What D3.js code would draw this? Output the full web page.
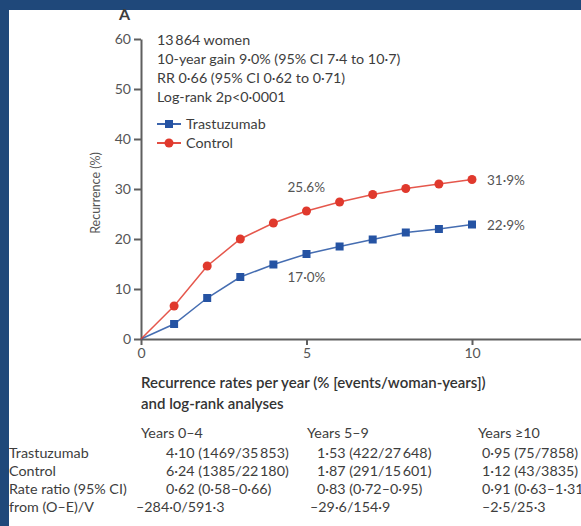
<!DOCTYPE html>
<html>
<head>
<meta charset="utf-8">
<script src="https://cdn.jsdelivr.net/npm/d3@7"></script>
<style>
html,body{margin:0;padding:0;background:#1f487a;}
svg{display:block;}
text{font-family:Lato,"Open Sans",sans-serif;fill:#3d3d3d;}
</style>
</head>
<body>
<svg id="chart" width="581" height="526"></svg>
<script>
// ---- data ----
const years = [0,1,2,3,4,5,6,7,8,9,10];
const trastuzumab = [0,3.0,8.2,12.4,14.9,17.0,18.5,19.9,21.3,22.0,22.9];
const control = [0,6.6,14.6,20.0,23.2,25.6,27.4,28.9,30.1,31.0,31.9];
const yTicks = [0,10,20,30,40,50,60];
const xTicks = [0,5,10];
const seriesNames = ["Trastuzumab","Control"];
const infoLines = ["13\u2009864 women","10-year gain 9·0% (95% CI 7·4 to 10·7)","RR 0·66 (95% CI 0·62 to 0·71)","Log-rank 2p<0·0001"];
const pointLabels = [
  {series:"Control", year:5, text:"25.6%"},
  {series:"Trastuzumab", year:5, text:"17·0%"},
  {series:"Control", year:10, text:"31·9%"},
  {series:"Trastuzumab", year:10, text:"22·9%"}
];
const tableHeader = ["Recurrence rates per year (% [events/woman-years])","and log-rank analyses"];
const periods = ["Years 0–4","Years 5–9","Years ≥10"];
const rowLabels = ["Trastuzumab","Control","Rate ratio (95% CI)","from (O–E)/V"];
const trastRates = ["4·10 (1469/35\u2009853)","1·53 (422/27\u2009648)","0·95 (75/7858)"];
const controlRates = ["6·24 (1385/22\u2009180)","1·87 (291/15\u2009601)","1·12 (43/3835)"];
const rateRatios = ["0·62 (0·58–0·66)","0·83 (0·72–0·95)","0·91 (0·63–1·31)"];
const oeV = ["–284·0/591·3","–29·6/154·9","–2·5/25·3"];

const RED = "#e0392d", BLUE = "#2553a3", AXIS = "#5f5f5f";

const svg = d3.select("#chart");
// white panel
svg.append("rect").attr("x",9).attr("y",10).attr("width",572).attr("height",516).attr("fill","#ffffff");
const g = svg.append("g");

const x = d3.scaleLinear().domain([0,10]).range([141,472]);
const y = d3.scaleLinear().domain([0,60]).range([339,39]);

// panel letter
g.append("text").attr("x",119).attr("y",20).attr("font-size",16).attr("font-weight",700).attr("fill","#333").text("A");

// y axis
const yAxis = g.append("g").attr("transform","translate(141,0)")
  .call(d3.axisLeft(y).tickValues(yTicks).tickSize(7).tickPadding(3).tickSizeOuter(0));
yAxis.select(".domain").attr("stroke",AXIS).attr("stroke-width",2);
yAxis.selectAll(".tick line").attr("stroke",AXIS).attr("stroke-width",2);
yAxis.selectAll(".tick text").attr("font-size",14).attr("font-family","Lato").style("fill","#555");

// x axis, extending to the edge
const xAxisScale = x.copy().domain([0, x.invert(581)]).range([141,581]);
const xAxis = g.append("g").attr("transform","translate(0,339)")
  .call(d3.axisBottom(xAxisScale).tickValues(xTicks).tickSize(6).tickPadding(3).tickSizeOuter(0));
xAxis.select(".domain").attr("stroke",AXIS).attr("stroke-width",2);
xAxis.selectAll(".tick line").attr("stroke",AXIS).attr("stroke-width",2);
xAxis.selectAll(".tick text").attr("font-size",14).attr("font-family","Lato").style("fill","#555");

// y label
g.append("text").attr("transform","translate(100,193) rotate(-90)").attr("text-anchor","middle")
  .attr("font-size",12.5).style("fill","#555").text("Recurrence (%)");

// lines
const line = d3.line().x((d,i)=>x(years[i])).y(d=>y(d));
g.append("path").datum(trastuzumab).attr("d",line).attr("fill","none").attr("stroke",BLUE).attr("stroke-width",1.5).attr("opacity",0.85);
g.append("path").datum(control).attr("d",line).attr("fill","none").attr("stroke",RED).attr("stroke-width",1.5).attr("opacity",0.85);

// markers (skip origin)
g.selectAll(".sq").data(trastuzumab.slice(1)).enter().append("rect")
  .attr("x",(d,i)=>x(years[i+1])-4).attr("y",d=>y(d)-4).attr("width",8).attr("height",8).attr("fill",BLUE);
g.selectAll(".ci").data(control.slice(1)).enter().append("circle")
  .attr("cx",(d,i)=>x(years[i+1])).attr("cy",d=>y(d)).attr("r",4.5).attr("fill",RED);

// point labels
pointLabels.forEach(p=>{
  const arr = p.series==="Control"?control:trastuzumab;
  const v = arr[years.indexOf(p.year)];
  let tx, ty;
  if(p.year===10){ tx = x(10)+15; ty = y(v)+5; }
  else if(p.series==="Control"){ tx = x(p.year)-19; ty = y(v)-19; }
  else { tx = x(p.year)-19; ty = y(v)+28; }
  g.append("text").attr("x",tx).attr("y",ty).attr("font-size",13.5).style("fill","#555").text(p.text);
});

// info text
infoLines.forEach((t,i)=>{
  g.append("text").attr("x",157).attr("y",45+i*19).attr("font-size",14.3).text(t);
});

// legend
[{name:seriesNames[0],c:BLUE,shape:"sq"},{name:seriesNames[1],c:RED,shape:"ci"}].forEach((l,i)=>{
  const ly = 124+i*19;
  g.append("line").attr("x1",157).attr("x2",181).attr("y1",ly).attr("y2",ly).attr("stroke",l.c).attr("stroke-width",1.8);
  if(l.shape==="sq") g.append("rect").attr("x",165).attr("y",ly-4).attr("width",8).attr("height",8).attr("fill",l.c);
  else g.append("circle").attr("cx",169).attr("cy",ly).attr("r",4.5).attr("fill",l.c);
  g.append("text").attr("x",186).attr("y",ly+5).attr("font-size",14.3).text(l.name);
});

// table
const FS = 14.3;
tableHeader.forEach((t,i)=>{
  g.append("text").attr("x",141).attr("y",388+i*21).attr("font-size",15).attr("font-weight",600).style("fill","#333").text(t);
});
const colX = [141,307,478];
periods.forEach((t,i)=>{
  g.append("text").attr("x",colX[i]).attr("y",438).attr("font-size",FS).text(t);
});
const rowY = r => 458 + r*18;
rowLabels.forEach((t,i)=>{
  g.append("text").attr("x",9).attr("y",rowY(i)).attr("font-size",FS).text(t);
});
const valX = [166,317,482];
const oeX = [136,310,482];
[trastRates,controlRates,rateRatios].forEach((row,r)=>{
  row.forEach((t,c)=>{
    g.append("text").attr("x",valX[c]).attr("y",rowY(r)).attr("font-size",FS).text(t);
  });
});
oeV.forEach((t,c)=>{
  g.append("text").attr("x",oeX[c]).attr("y",rowY(3)).attr("font-size",FS).text(t);
});
</script>
</body>
</html>
